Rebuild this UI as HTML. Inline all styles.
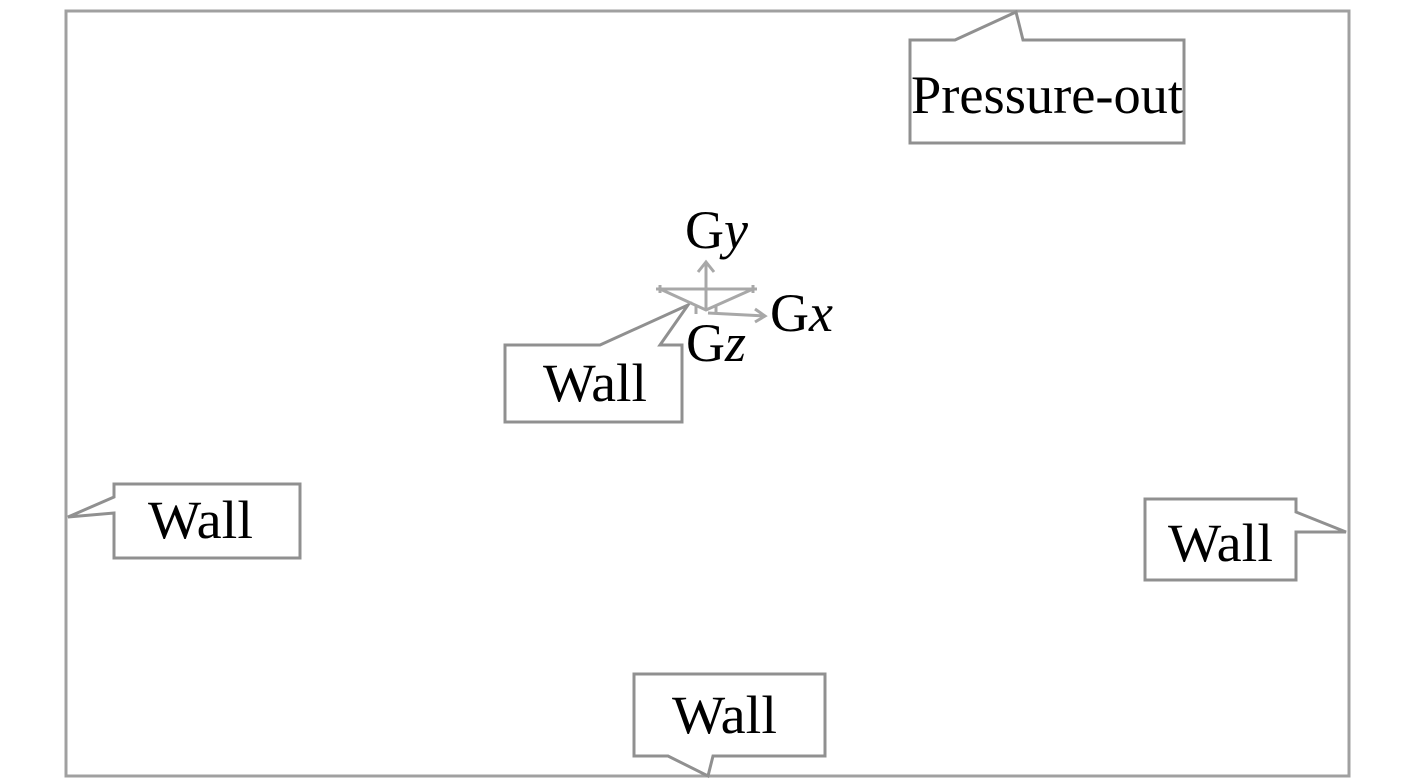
<!DOCTYPE html>
<html><head><style>body{margin:0;background:#fff}svg{display:block}</style></head><body>
<svg width="1417" height="784" viewBox="0 0 1417 784" xmlns="http://www.w3.org/2000/svg" font-family="Liberation Serif, serif" fill="none">
<rect x="66" y="11" width="1283" height="765" stroke="#a0a0a0" stroke-width="3"/>
<g stroke="#909090" stroke-width="3" fill="#fff">
<path d="M910,40 H955 L1016,12 L1023,40 H1184 V143 H910 Z"/>
<path d="M505,345 H600 L688,305 L660,345 H682 V422 H505 Z"/>
<path d="M114,484 H300 V558 H114 V513 L68,517 L114,497 Z"/>
<path d="M1145,499 H1296 V512 L1346,532 L1296,532 V580 H1145 Z"/>
<path d="M634,674 H825 V756 H713 L708,776 L668,756 H634 Z"/>
</g>
<g stroke="#a8a8a8" stroke-width="3">
<path d="M660,289 H753 M660,289 L706,310 L753,289"/>
<path d="M706,310 V262 M698,272 L706,262 L714,272"/>
<path d="M708,313 L765,316 M755,309 L765,316 L755,322"/>
<path d="M656,289 h8 M660,285 v8 M749,289 h8 M753,285 v8 M696,306 v8 M716,306 v8"/>
</g>
<g fill="#000" font-size="54">
<text x="911" y="113" textLength="272" lengthAdjust="spacingAndGlyphs">Pressure-out</text>
<text x="543" y="401" textLength="104" lengthAdjust="spacingAndGlyphs">Wall</text>
<text x="148" y="538" textLength="105" lengthAdjust="spacingAndGlyphs">Wall</text>
<text x="1168" y="561" textLength="105" lengthAdjust="spacingAndGlyphs">Wall</text>
<text x="672" y="733" textLength="105" lengthAdjust="spacingAndGlyphs">Wall</text>
<text x="685" y="248">G<tspan font-style="italic">y</tspan></text>
<text x="770" y="331">G<tspan font-style="italic">x</tspan></text>
<text x="686" y="361">G<tspan font-style="italic">z</tspan></text>
</g>
</svg>
</body></html>
